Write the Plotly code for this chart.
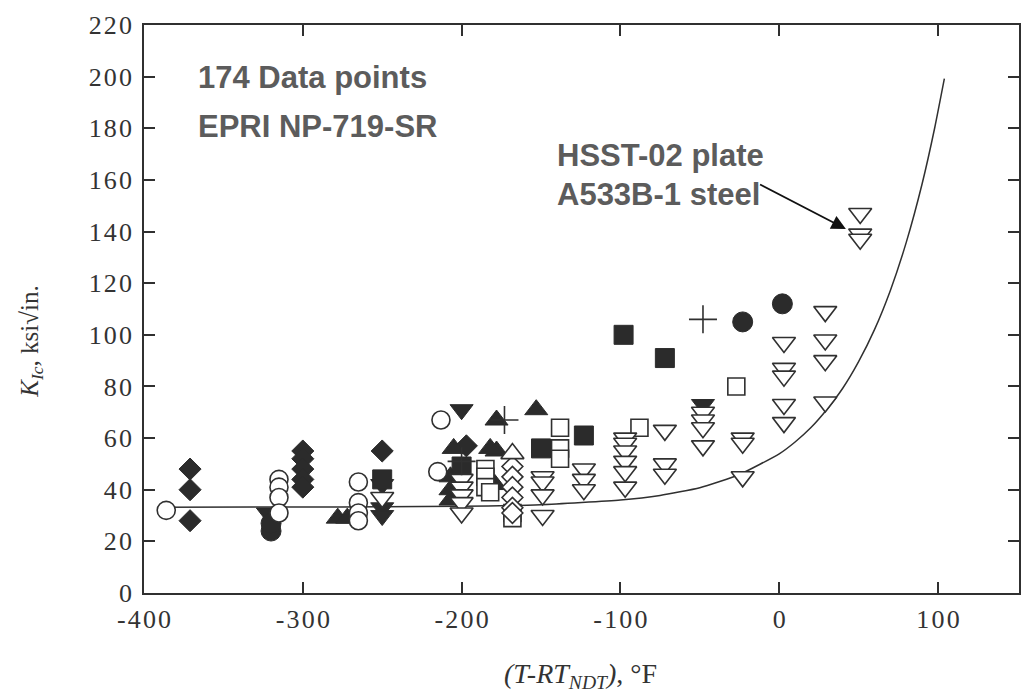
import plotly.graph_objects as go

# Fracture toughness K_Ic (ksi*sqrt(in)) versus normalised temperature (T - RT_NDT, degF)
open_circle_t = [-386, -315, -315, -315, -315, -265, -265, -265, -265, -213, -215]
open_circle_k = [32, 44, 41, 37, 31, 43, 35, 31, 28, 67, 47]

filled_circle_t = [-320, -320, -23, 2]
filled_circle_k = [24, 27, 105, 112]

filled_diamond_t = [-371, -371, -371, -300, -300, -300, -300, -300, -250, -197]
filled_diamond_k = [48, 40, 28, 55, 52, 48, 44, 41, 55, 57]

open_diamond_t = [-168, -168, -168, -168, -168, -168]
open_diamond_k = [49, 45, 41, 37, 33, 31]

filled_tri_up_t = [-278, -272, -205, -207, -207, -207, -178, -178, -182, -179, -153]
filled_tri_up_k = [29, 29, 56, 45, 40, 36, 67, 55, 56, 42, 71]

open_tri_up_t = [-168]
open_tri_up_k = [54]

filled_tri_down_t = [-322, -250, -250, -250, -200, -48]
filled_tri_down_k = [31, 42, 33, 30, 71, 73]

open_tri_down_t = [-250, -200, -200, -200, -200, -200, -149, -149, -149, -149,
                   -123, -123, -123, -97, -97, -97, -97, -97, -97,
                   -72, -72, -72, -48, -48, -48, -48, -23, -23, -23,
                   3, 3, 3, 3, 3, 29, 29, 29, 29, 51, 51, 51]
open_tri_down_k = [37, 44, 41, 38, 35, 31, 45, 43, 38, 30,
                   48, 44, 40, 60, 58, 55, 51, 47, 41,
                   63, 50, 46, 70, 67, 64, 57, 60, 58, 45,
                   97, 87, 84, 73, 66, 109, 98, 90, 74, 147, 139, 137]

open_square_t = [-185, -185, -185, -182, -168, -168, -138, -138, -138, -88, -27]
open_square_k = [48, 45, 41, 39, 31, 29, 64, 56, 52, 64, 80]

filled_square_t = [-250, -200, -150, -123, -98, -72]
filled_square_k = [44, 49, 56, 61, 100, 91]

plus_t = [-200, -173, -48]
plus_k = [51, 67, 106]

# ASME lower-bound K_Ic reference curve
curve_t = [-390, -300, -250, -200, -150, -100, -75, -50, -25, 0, 10, 20, 30, 40, 50,
           60, 70, 80, 90, 98, 104]
curve_k = [33.2, 33.3, 33.4, 33.6, 34.2, 36.0, 37.8, 40.8, 45.9, 53.9, 58.5, 64.1, 71.1, 79.3, 89.6,
           102.0, 117.2, 135.8, 158.5, 180.4, 199.2]

x_ticks = [-400, -300, -200, -100, 0, 100]
y_ticks = [0, 20, 40, 60, 80, 100, 120, 140, 160, 180, 200, 220]

INK = "#2b2b2b"
LINE = "#303030"
HAIR = "\u200a"


def spaced(v):
    return HAIR.join(str(v))


fig = go.Figure()

fig.add_trace(go.Scatter(x=curve_t, y=curve_k, mode="lines",
                         line=dict(color=LINE, width=1.5, shape="spline", smoothing=0.5),
                         hoverinfo="skip", showlegend=False))


def add_markers(xs, ys, symbol, size, filled):
    if filled:
        marker = dict(symbol=symbol, size=size, color=INK, line=dict(color=INK, width=1))
    else:
        marker = dict(symbol=symbol, size=size, color="white", line=dict(color=LINE, width=1.6))
    fig.add_trace(go.Scatter(x=xs, y=ys, mode="markers", marker=marker,
                             hoverinfo="skip", showlegend=False))


add_markers(filled_diamond_t, filled_diamond_k, "diamond", 17, True)
add_markers(filled_tri_up_t, filled_tri_up_k, "triangle-up", 20, True)
add_markers(filled_tri_down_t, filled_tri_down_k, "triangle-down", 20, True)
add_markers(filled_square_t, filled_square_k, "square", 19, True)
add_markers(filled_circle_t, filled_circle_k, "circle", 20, True)
add_markers(open_circle_t, open_circle_k, "circle", 18, False)
add_markers(open_square_t, open_square_k, "square", 17, False)
add_markers(open_diamond_t, open_diamond_k, "diamond", 16, False)
add_markers(open_tri_up_t, open_tri_up_k, "triangle-up", 20, False)
add_markers(open_tri_down_t, open_tri_down_k, "triangle-down", 20, False)
fig.add_trace(go.Scatter(x=plus_t, y=plus_k, mode="markers",
                         marker=dict(symbol="cross-thin", size=20, line=dict(color=LINE, width=1.6)),
                         hoverinfo="skip", showlegend=False))

tick_font = dict(family="Liberation Serif", size=26, color="#333")
axis_common = dict(showgrid=False, zeroline=False, showline=True, linecolor=LINE, linewidth=1.6,
                   mirror="ticks", ticks="inside", ticklen=11, tickwidth=1.5, tickcolor=LINE,
                   tickfont=tick_font, fixedrange=True)

fig.update_xaxes(range=[-400, 151], tickvals=x_ticks, ticktext=[spaced(v) for v in x_ticks],
                 ticklabelstandoff=2, **axis_common)
fig.update_yaxes(range=[0, 220], tickvals=y_ticks, ticktext=[spaced(v) for v in y_ticks],
                 ticklabelstandoff=5, **axis_common)

note_font = dict(family="Liberation Sans", size=31, color="#5c5c5c")
notes = [
    ("<b>174 Data points</b>", -367, 199.5),
    ("<b>EPRI NP-719-SR</b>", -367, 180.5),
    ("<b>HSST-02 plate</b>", -141, 169.5),
    ("<b>A533B-1 steel</b>", -141, 154.5),
]
for text, xv, yv in notes:
    fig.add_annotation(x=xv, y=yv, xref="x", yref="y", text=text, showarrow=False,
                       xanchor="left", yanchor="middle", font=note_font)

fig.add_annotation(x=42, y=141, xref="x", yref="y", ax=-13, ay=158.5, axref="x", ayref="y",
                   text="", showarrow=True, arrowhead=2, arrowsize=1.6, arrowwidth=1.8,
                   arrowcolor="#111")

# Axis titles, placed in paper coordinates relative to the plot area
pw = 1032 - 144 - 11
ph = 694 - 24 - 101
fig.add_annotation(x=(31 - 144) / pw, y=(593 - 341) / ph, xref="paper", yref="paper",
                   textangle=-90, showarrow=False, xanchor="center", yanchor="middle",
                   text="<i>K</i><sub><i>Ic</i></sub>, ksi√in.",
                   font=dict(family="Liberation Serif", size=25, color="#333"))
fig.add_annotation(x=(581 - 144) / pw, y=-(676 - 593) / ph, xref="paper", yref="paper",
                   showarrow=False, xanchor="center", yanchor="middle",
                   text="<i>(T-RT</i><sub><i>NDT</i></sub><i>)</i>, °F",
                   font=dict(family="Liberation Serif", size=28, color="#333"))

fig.update_layout(width=1032, height=694, margin=dict(l=144, r=11, t=24, b=101),
                  plot_bgcolor="white", paper_bgcolor="white")

fig.write_html("out.html")
